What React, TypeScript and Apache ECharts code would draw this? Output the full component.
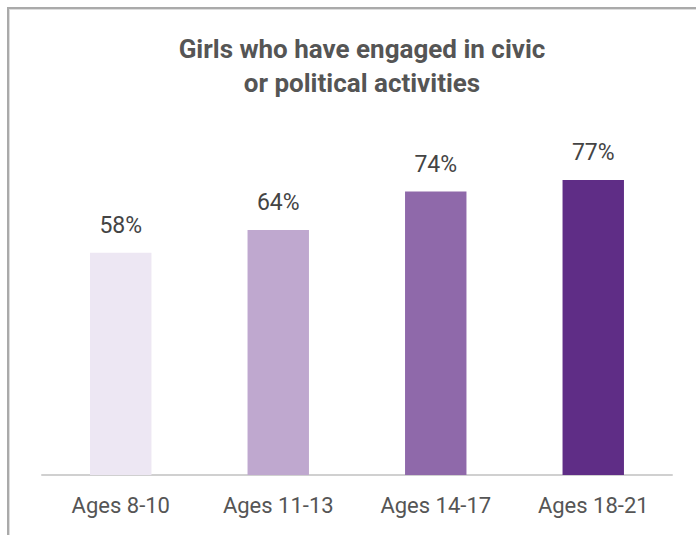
import React, { useEffect, useRef } from "react";
import * as echarts from "echarts";

const categories = ["Ages 8-10", "Ages 11-13", "Ages 14-17", "Ages 18-21"];
const values = [58, 64, 74, 77];
const barColors = ["#EDE7F3", "#BFA8CF", "#8F69AA", "#5F2D86"];
const titleText = "Girls who have engaged in civic\nor political activities";

export default function App() {
  const ref = useRef<HTMLDivElement>(null);
  useEffect(() => {
    if (!ref.current) return;
    const chart = echarts.init(ref.current, undefined, { renderer: "svg" });
    chart.setOption({
      animation: false,
      backgroundColor: "#ffffff",
      title: {
        text: titleText,
        left: 357,
        textAlign: "center",
        top: 27,
        textStyle: {
          fontFamily: "Roboto",
          fontWeight: "bold",
          fontSize: 26,
          lineHeight: 34,
          color: "#555555",
        },
      },
      graphic: [
        { type: "rect", shape: { x: 7, y: 7, width: 700, height: 2 }, style: { fill: "#aaaaaa" }, silent: true },
        { type: "rect", shape: { x: 7, y: 7, width: 2, height: 540 }, style: { fill: "#aaaaaa" }, silent: true },
        { type: "rect", shape: { x: 9, y: 9, width: 700, height: 1 }, style: { fill: "#dddddd" }, silent: true },
        { type: "rect", shape: { x: 9, y: 9, width: 1, height: 540 }, style: { fill: "#dddddd" }, silent: true },
      ],
      grid: { left: 42, right: 24, top: 92, bottom: 60 },
      xAxis: {
        type: "category",
        data: categories,
        axisLine: { lineStyle: { color: "#d0d0d0", width: 2 } },
        axisTick: { show: false },
        axisLabel: {
          margin: 19,
          fontFamily: "Roboto",
          fontSize: 22,
          color: "#555555",
        },
      },
      yAxis: {
        type: "value",
        min: 0,
        max: 100,
        show: false,
        splitLine: { show: false },
      },
      series: [
        {
          type: "bar",
          data: values.map((v, i) => ({ value: v, itemStyle: { color: barColors[i] } })),
          barWidth: "39%",
          label: {
            show: true,
            position: "top",
            distance: 16,
            formatter: "{c}%",
            fontFamily: "Roboto",
            fontSize: 23,
            color: "#444444",
          },
        },
      ],
    });
    return () => chart.dispose();
  }, []);
  return (
    <div
      ref={ref}
      style={{ position: "absolute", left: 0, top: 0, width: 696, height: 535 }}
    />
  );
}
